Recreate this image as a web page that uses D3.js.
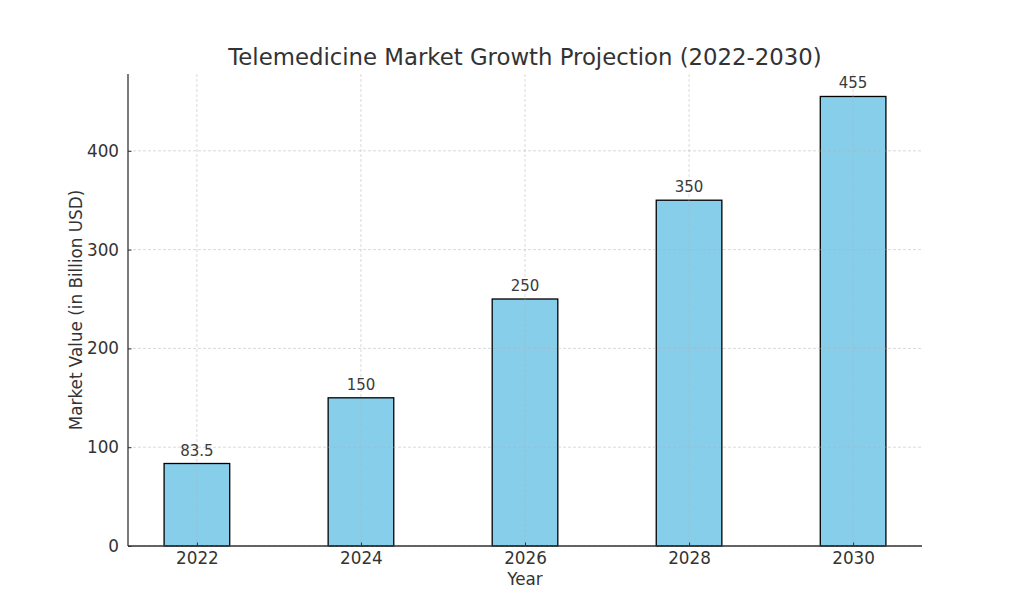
<!DOCTYPE html>
<html><head><meta charset="utf-8">
<script src="https://cdn.jsdelivr.net/npm/d3@7"></script>
<style>body{margin:0;background:#fff}svg{display:block}text{font-family:"DejaVu Sans",sans-serif}</style>
</head><body><svg id="c" width="1024" height="614"></svg>
<script>
const years = [2022, 2024, 2026, 2028, 2030];
const values = [83.5, 150, 250, 350, 455];
const valueLabels = ["83.5", "150", "250", "350", "455"];
const yTicks = [0, 100, 200, 300, 400];

const svg = d3.select("#c");
const L = 128, R = 922, T = 74, B = 546;
const x = d3.scaleLinear().domain([2021.16, 2030.84]).range([L, R]);
const y = d3.scaleLinear().domain([0, 477.75]).range([B, T]);
const bw = x(2022.8) - x(2022);
const txt = "#333";

// bars
svg.append("g").selectAll("rect").data(years).join("rect")
  .attr("x", (d) => x(d - 0.4)).attr("y", (d, i) => y(values[i]))
  .attr("width", bw).attr("height", (d, i) => y(0) - y(values[i]))
  .attr("fill", "#87CEEB").attr("stroke", "#000").attr("stroke-width", 1.3);

// grid on top
const g = svg.append("g").attr("stroke", "#b0b0b0").attr("stroke-opacity", 0.6)
  .attr("stroke-dasharray", "3,2").attr("stroke-width", 0.8);
g.selectAll(".gx").data(years).join("line")
  .attr("x1", d => x(d)).attr("x2", d => x(d)).attr("y1", T).attr("y2", B);
g.selectAll(".gy").data(yTicks).join("line")
  .attr("x1", L).attr("x2", R).attr("y1", d => y(d)).attr("y2", d => y(d));

// axes
const xa = svg.append("g").attr("transform", `translate(0,${B})`)
  .call(d3.axisBottom(x).tickValues(years).tickFormat(d3.format("d")).tickSizeInner(-3.5).tickSizeOuter(0).tickPadding(6));
const ya = svg.append("g").attr("transform", `translate(${L},0)`)
  .call(d3.axisLeft(y).tickValues(yTicks).tickSizeInner(-3.5).tickSizeOuter(0).tickPadding(9));
[xa, ya].forEach(a => {
  a.select(".domain").remove();
  a.selectAll("line").attr("stroke", txt).attr("stroke-width", 1);
  a.selectAll("text").attr("fill", txt).style("font-size", "16.8px").style("font-family", "DejaVu Sans");
});
svg.append("line").attr("x1", L).attr("x2", L).attr("y1", T).attr("y2", B).attr("stroke", txt).attr("stroke-width", 1.3);
svg.append("line").attr("x1", L).attr("x2", R).attr("y1", B).attr("y2", B).attr("stroke", txt).attr("stroke-width", 1.3);

// value labels
svg.append("g").selectAll("text").data(years).join("text")
  .attr("x", d => x(d)).attr("y", (d, i) => y(values[i]) - 8)
  .attr("text-anchor", "middle").attr("fill", "#3a3a3a").style("font-size", "15px")
  .text((d, i) => valueLabels[i]);

// titles
svg.append("text").attr("x", (L + R) / 2).attr("y", 65).attr("text-anchor", "middle")
  .attr("fill", txt).style("font-size", "22.8px").text("Telemedicine Market Growth Projection (2022-2030)");
svg.append("text").attr("x", (L + R) / 2).attr("y", 585).attr("text-anchor", "middle")
  .attr("fill", txt).style("font-size", "16.8px").text("Year");
svg.append("text").attr("transform", `translate(82,${(T + B) / 2}) rotate(-90)`).attr("text-anchor", "middle")
  .attr("fill", txt).style("font-size", "16.8px").text("Market Value (in Billion USD)");
</script></body></html>
